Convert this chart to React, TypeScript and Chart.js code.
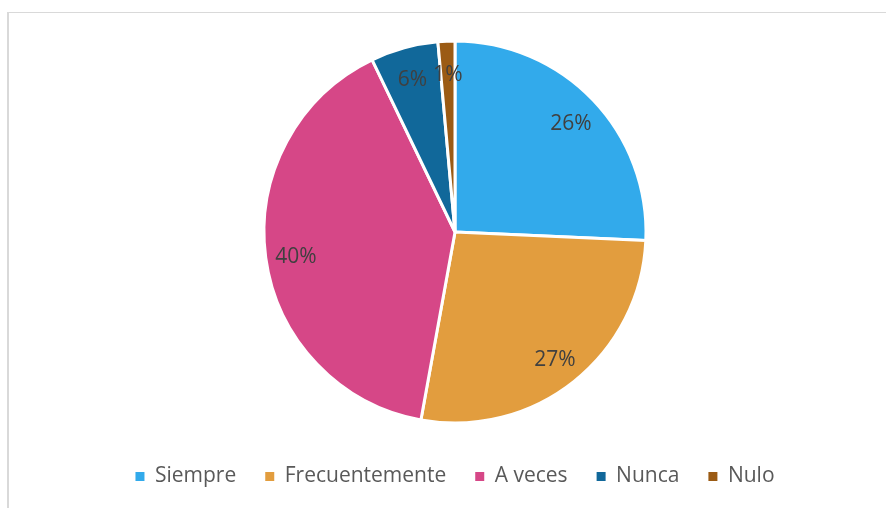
import { useEffect, useRef } from "react";
import { Chart, registerables } from "chart.js";

Chart.register(...registerables);

const categories = ["Siempre", "Frecuentemente", "A veces", "Nunca", "Nulo"];
const counts = [18, 19, 28, 4, 1];
const colors = ["#32AAEB", "#E29D3E", "#D64787", "#11689A", "#9B5B14"];

const labelPlugin = {
  id: "pctLabels",
  afterDatasetsDraw(chart: any) {
    const ctx = chart.ctx;
    const meta = chart.getDatasetMeta(0);
    const data = chart.data.datasets[0].data as number[];
    const total = data.reduce((a, b) => a + b, 0);
    ctx.save();
    ctx.font = "21px 'Open Sans'";
    ctx.fillStyle = "#404040";
    ctx.textAlign = "center";
    ctx.textBaseline = "middle";
    meta.data.forEach((arc: any, i: number) => {
      const { x, y, startAngle, endAngle, outerRadius } = arc.getProps(
        ["x", "y", "startAngle", "endAngle", "outerRadius"],
        true
      );
      const mid = (startAngle + endAngle) / 2;
      const r = outerRadius * 0.84;
      ctx.fillText(
        Math.round((data[i] / total) * 100) + "%",
        x + Math.cos(mid) * r,
        y + Math.sin(mid) * r + 3
      );
    });
    ctx.restore();
  },
};

export default function App() {
  const ref = useRef<HTMLCanvasElement>(null);
  useEffect(() => {
    if (!ref.current) return;
    const baseGen = (Chart as any).overrides.pie.plugins.legend.labels.generateLabels;
    const chart = new Chart(ref.current, {
      type: "pie",
      data: {
        labels: categories,
        datasets: [
          {
            data: counts,
            backgroundColor: colors,
            borderColor: "#ffffff",
            borderWidth: 3,
            radius: 191,
          },
        ],
      },
      options: {
        animation: false,
        responsive: false,
        maintainAspectRatio: false,
        layout: { padding: { top: 14, bottom: 12, left: 0, right: 8 } },
        plugins: {
          tooltip: { enabled: false },
          legend: {
            position: "bottom",
            labels: {
              boxWidth: 9,
              boxHeight: 9,
              padding: 29,
              color: "#595959",
              font: { size: 21, family: "'Open Sans'" },
              generateLabels: (c: any) =>
                baseGen(c).map((it: any) => ({ ...it, lineWidth: 0, strokeStyle: "rgba(0,0,0,0)" })),
            },
          },
        },
      },
      plugins: [labelPlugin],
    });
    return () => chart.destroy();
  }, []);
  return (
    <div
      style={{
        position: "fixed",
        left: 0,
        top: 0,
        width: 886,
        height: 508,
        overflow: "hidden",
        background: "#ffffff",
      }}
    >
      <div
        style={{
          position: "absolute",
          left: 7,
          top: 12,
          width: 900,
          height: 520,
          borderTop: "1px solid #D9D9D9",
          borderLeft: "2px solid #D9D9D9",
        }}
      >
        <canvas ref={ref} width={900} height={496} style={{ display: "block" }} />
      </div>
    </div>
  );
}
